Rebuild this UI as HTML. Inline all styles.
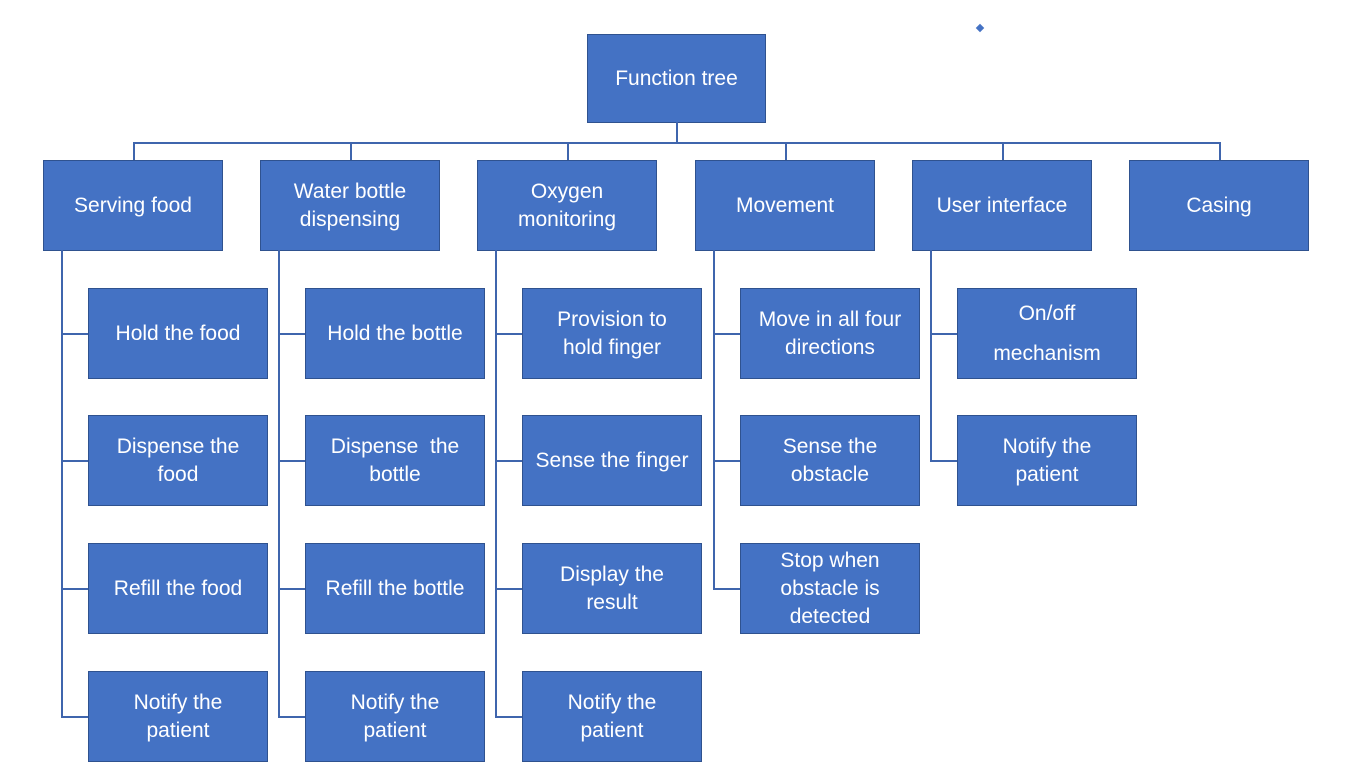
<!DOCTYPE html>
<html><head><style>
body{margin:0;width:1357px;height:773px;background:#fff;position:relative;overflow:hidden;font-family:"Liberation Sans",sans-serif}
.b{position:absolute;box-sizing:border-box;background:#4472C4;border:1.5px solid #2F528F;color:#fff;display:flex;align-items:center;justify-content:center;text-align:center;font-size:21px;line-height:28px;width:180px;height:91px}
.l{position:absolute;background:#3F65AD}
.h{height:1.5px}.v{width:1.5px}
</style></head><body>
<div style="position:absolute;left:977px;top:25px;width:6px;height:6px;background:#4472C4;transform:rotate(45deg)"></div>
<div class="b" style="left:587px;top:34px;width:179px;height:89px">Function tree</div>
<div class="l v" style="left:676px;top:122px;height:20px"></div>
<div class="l h" style="left:133px;top:142px;width:1087px"></div>
<div class="l v" style="left:133px;top:142px;height:18px"></div>
<div class="l v" style="left:350px;top:142px;height:18px"></div>
<div class="l v" style="left:567px;top:142px;height:18px"></div>
<div class="l v" style="left:785px;top:142px;height:18px"></div>
<div class="l v" style="left:1002px;top:142px;height:18px"></div>
<div class="l v" style="left:1219px;top:142px;height:18px"></div>

<div class="b" style="left:43px;top:160px">Serving food</div>
<div class="b" style="left:260px;top:160px">Water bottle<br>dispensing</div>
<div class="b" style="left:477px;top:160px">Oxygen<br>monitoring</div>
<div class="b" style="left:695px;top:160px">Movement</div>
<div class="b" style="left:912px;top:160px">User interface</div>
<div class="b" style="left:1129px;top:160px">Casing</div>

<!-- col1 -->
<div class="l v" style="left:61px;top:250px;height:466px"></div>
<div class="l h" style="left:61px;top:333px;width:27px"></div>
<div class="l h" style="left:61px;top:460px;width:27px"></div>
<div class="l h" style="left:61px;top:588px;width:27px"></div>
<div class="l h" style="left:61px;top:716px;width:27px"></div>
<div class="b" style="left:88px;top:288px">Hold the food</div>
<div class="b" style="left:88px;top:415px">Dispense the<br>food</div>
<div class="b" style="left:88px;top:543px">Refill the food</div>
<div class="b" style="left:88px;top:671px">Notify the<br>patient</div>
<!-- col2 -->
<div class="l v" style="left:278px;top:250px;height:466px"></div>
<div class="l h" style="left:278px;top:333px;width:27px"></div>
<div class="l h" style="left:278px;top:460px;width:27px"></div>
<div class="l h" style="left:278px;top:588px;width:27px"></div>
<div class="l h" style="left:278px;top:716px;width:27px"></div>
<div class="b" style="left:305px;top:288px">Hold the bottle</div>
<div class="b" style="left:305px;top:415px">Dispense&nbsp; the<br>bottle</div>
<div class="b" style="left:305px;top:543px">Refill the bottle</div>
<div class="b" style="left:305px;top:671px">Notify the<br>patient</div>
<!-- col3 -->
<div class="l v" style="left:495px;top:250px;height:466px"></div>
<div class="l h" style="left:495px;top:333px;width:27px"></div>
<div class="l h" style="left:495px;top:460px;width:27px"></div>
<div class="l h" style="left:495px;top:588px;width:27px"></div>
<div class="l h" style="left:495px;top:716px;width:27px"></div>
<div class="b" style="left:522px;top:288px">Provision to<br>hold finger</div>
<div class="b" style="left:522px;top:415px">Sense the finger</div>
<div class="b" style="left:522px;top:543px">Display the<br>result</div>
<div class="b" style="left:522px;top:671px">Notify the<br>patient</div>
<!-- col4 -->
<div class="l v" style="left:713px;top:250px;height:338px"></div>
<div class="l h" style="left:713px;top:333px;width:27px"></div>
<div class="l h" style="left:713px;top:460px;width:27px"></div>
<div class="l h" style="left:713px;top:588px;width:27px"></div>
<div class="b" style="left:740px;top:288px">Move in all four<br>directions</div>
<div class="b" style="left:740px;top:415px">Sense the<br>obstacle</div>
<div class="b" style="left:740px;top:543px">Stop when<br>obstacle is<br>detected</div>
<!-- col5 -->
<div class="l v" style="left:930px;top:250px;height:210px"></div>
<div class="l h" style="left:930px;top:333px;width:27px"></div>
<div class="l h" style="left:930px;top:460px;width:27px"></div>
<div class="b" style="left:957px;top:288px;line-height:40px">On/off<br>mechanism</div>
<div class="b" style="left:957px;top:415px">Notify the<br>patient</div>
</body></html>
